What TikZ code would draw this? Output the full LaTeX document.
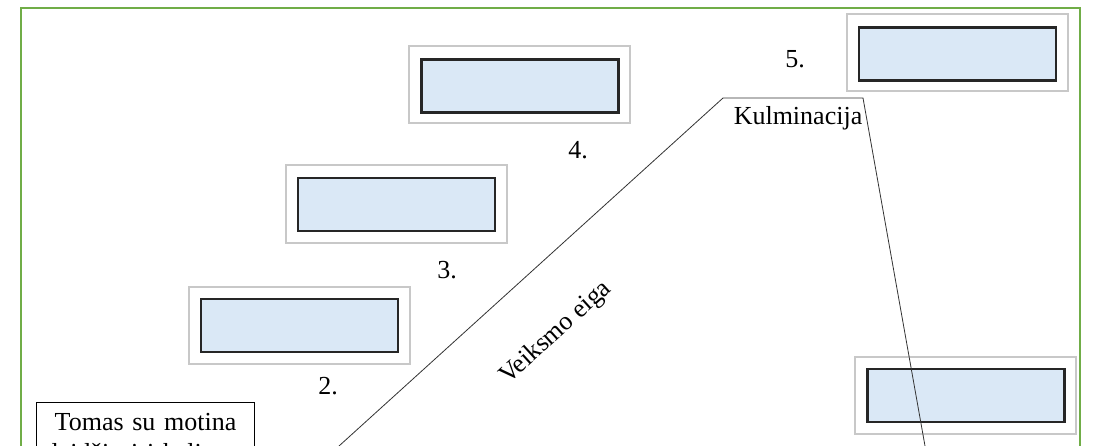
\documentclass[tikz,border=0pt]{standalone}
\usepackage{fontspec}
\setmainfont{Liberation Serif}
\definecolor{framegreen}{RGB}{112,173,71}
\definecolor{boxblue}{RGB}{218,232,246}
\definecolor{shadowgray}{RGB}{200,200,200}
\begin{document}
\begin{tikzpicture}[x=1pt,y=-1pt,
  outerbox/.style={draw=shadowgray,line width=2pt,fill=white,minimum width=221pt,minimum height=77pt,inner sep=0pt},
  innerbox/.style={draw=black!85,line width=2.8pt,fill=boxblue,minimum width=197pt,minimum height=53pt,inner sep=0pt},
  lbl/.style={font=\fontsize{26}{31}\selectfont,inner sep=0pt},
  plotline/.style={draw=black!80,line width=0.8pt}]
\useasboundingbox (0,0) rectangle (1099,446);
\clip (0,0) rectangle (1099,446);
\draw[framegreen,line width=2.5pt] (21,8) rectangle (1080,520);
% boxes
\node[outerbox] (o4) at (519,85) {};
\node[innerbox] (b4) at (520,86) {};
\node[outerbox] (o5) at (957.5,53) {};
\node[innerbox] (b5) at (957.5,54) {};
\node[outerbox] (o3) at (396,204) {};
\node[innerbox] (b3) at (396.5,204.5) {};
\node[outerbox] (o2) at (299,325.5) {};
\node[innerbox] (b2) at (299.5,325.5) {};
\node[outerbox] (o6) at (965,395.5) {};
\node[innerbox] (b6) at (966,395.5) {};
% labels
\node[lbl] (l4) at (578,150) {4.};
\node[lbl] (l5) at (795,59) {5.};
\node[lbl] (l3) at (447,270) {3.};
\node[lbl] (l2) at (328,386) {2.};
\node[lbl,anchor=base] (kul) at (798,125) {Kulminacija};
\node[lbl,rotate=42.2] (veik) at (556,333) {Veiksmo eiga};
% start box
\node[draw=black,line width=1.1pt,anchor=north west,text width=218pt,inner xsep=0pt,inner ysep=11pt,align=center,font=\fontsize{26}{31}\selectfont] (start) at (36,402) {Tomas su motina\\leidžiasi į kelionę};
% plot line
\coordinate (p0) at (339,446);
\coordinate (pl) at (723,98);
\coordinate (pr) at (863,98);
\coordinate (p1) at (925,446);
\draw[plotline] (p0) -- (pl) -- (pr) -- (p1);
\end{tikzpicture}
\end{document}
